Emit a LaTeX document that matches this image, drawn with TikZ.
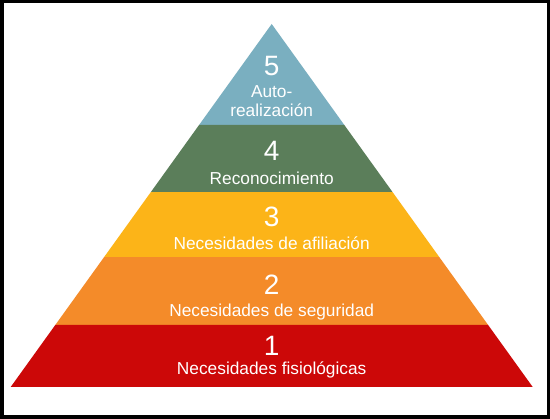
\documentclass[tikz,border=0pt]{standalone}
\usepackage{fontspec}
\setmainfont{Liberation Sans}
\usetikzlibrary{calc}

\definecolor{nivelcinco}{HTML}{7AAFC0}
\definecolor{nivelcuatro}{HTML}{5B7E5A}
\definecolor{niveltres}{HTML}{FCB418}
\definecolor{niveldos}{HTML}{F48B29}
\definecolor{niveluno}{HTML}{CC0808}

\tikzset{
    numero/.style={text=white, inner sep=0pt, font=\fontsize{28}{30}\selectfont},
    rotulo/.style={text=white, inner sep=0pt, align=center, font=\fontsize{17.3}{19}\selectfont}
}

\begin{document}
\begin{tikzpicture}[x=1pt, y=-1pt]
    \useasboundingbox (0, 0) rectangle (550, 419);
    \fill[white] (0, 0) rectangle (550, 419);

    % Vertices of the pyramid
    \coordinate (cima) at (271.7, 24);
    \coordinate (baseizq) at (10.7, 387);
    \coordinate (baseder) at (532.7, 387);

    % Cuts between levels
    \coordinate (i5) at ($(cima)!0.278!(baseizq)$);
    \coordinate (d5) at ($(cima)!0.278!(baseder)$);
    \coordinate (i4) at ($(cima)!0.463!(baseizq)$);
    \coordinate (d4) at ($(cima)!0.463!(baseder)$);
    \coordinate (i3) at ($(cima)!0.642!(baseizq)$);
    \coordinate (d3) at ($(cima)!0.642!(baseder)$);
    \coordinate (i2) at ($(cima)!0.829!(baseizq)$);
    \coordinate (d2) at ($(cima)!0.829!(baseder)$);

    % Levels
    \fill[nivelcinco] (cima) -- (d5) -- (i5) -- cycle;
    \fill[nivelcuatro] (i5) -- (d5) -- (d4) -- (i4) -- cycle;
    \fill[niveltres] (i4) -- (d4) -- (d3) -- (i3) -- cycle;
    \fill[niveldos] (i3) -- (d3) -- (d2) -- (i2) -- cycle;
    \fill[niveluno] (i2) -- (d2) -- (baseder) -- (baseizq) -- cycle;

    % Labels
    \node[numero] (n5) at (271.7, 66) {5};
    \node[rotulo] (t5) at (271.7, 101) {Auto-\\realización};
    \node[numero] (n4) at (271.7, 151) {4};
    \node[rotulo] (t4) at (271.7, 178) {Reconocimiento};
    \node[numero] (n3) at (271.7, 217) {3};
    \node[rotulo] (t3) at (271.7, 243) {Necesidades de afiliación};
    \node[numero] (n2) at (271.7, 285) {2};
    \node[rotulo] (t2) at (271.7, 312) {Necesidades de seguridad};
    \node[numero] (n1) at (271.7, 346) {1};
    \node[rotulo] (t1) at (271.7, 370) {Necesidades fisiológicas};

    % Frame
    \draw[line width=3.5pt] (1.75, 1.75) rectangle (548.25, 417.25);
\end{tikzpicture}
\end{document}
